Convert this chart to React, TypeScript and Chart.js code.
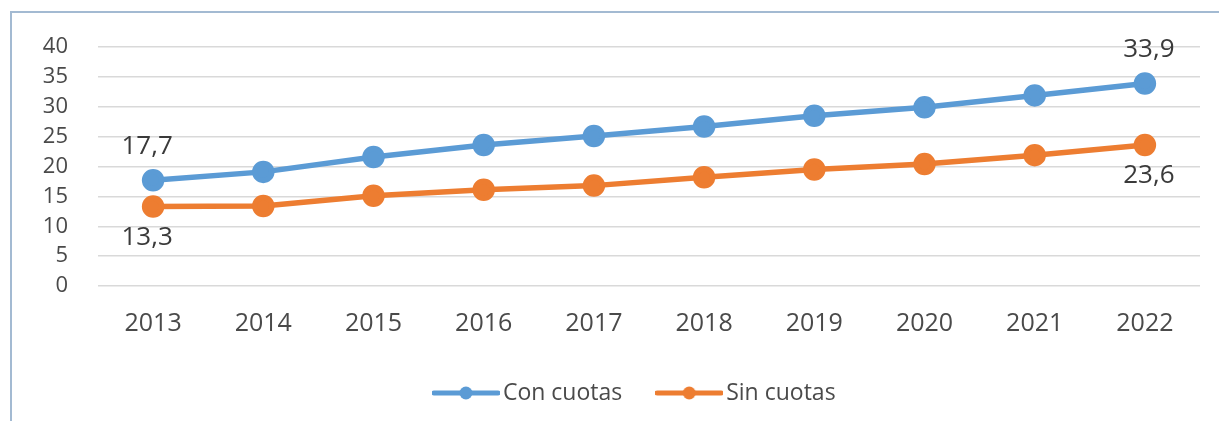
import React, { useEffect, useRef } from "react";
import { Chart, registerables } from "chart.js";

Chart.register(...registerables);

const years = ["2013", "2014", "2015", "2016", "2017", "2018", "2019", "2020", "2021", "2022"];
const conCuotas = [17.7, 19.1, 21.6, 23.6, 25.1, 26.7, 28.5, 29.9, 31.9, 33.9];
const sinCuotas = [13.3, 13.4, 15.1, 16.1, 16.8, 18.2, 19.5, 20.4, 21.9, 23.6];
const seriesNames = ["Con cuotas", "Sin cuotas"];
const seriesColors = ["#5B9BD5", "#ED7D31"];
const labeledIndices = [0, 9];
const yTicks = [0, 5, 10, 15, 20, 25, 30, 35, 40];

const FONT = "'Open Sans', 'DejaVu Sans', sans-serif";
const TEXT = "#4A4A4A";

function legendIcon(color: string): HTMLCanvasElement {
  const c = document.createElement("canvas");
  c.width = 68;
  c.height = 16;
  const ctx = c.getContext("2d")!;
  ctx.strokeStyle = color;
  ctx.lineWidth = 5;
  ctx.lineCap = "round";
  ctx.beginPath();
  ctx.moveTo(2, 8);
  ctx.lineTo(66, 8);
  ctx.stroke();
  ctx.fillStyle = color;
  ctx.beginPath();
  ctx.arc(34, 8, 6.5, 0, Math.PI * 2);
  ctx.fill();
  return c;
}

const dataLabelPlugin = {
  id: "endLabels",
  afterDatasetsDraw(chart: any) {
    const ctx = chart.ctx;
    ctx.save();
    ctx.font = `26px ${FONT}`;
    ctx.fillStyle = "#3A3A3A";
    ctx.textAlign = "center";
    ctx.textBaseline = "middle";
    chart.data.datasets.forEach((ds: any, di: number) => {
      const meta = chart.getDatasetMeta(di);
      labeledIndices.forEach((idx, k) => {
        const pt = meta.data[idx];
        if (!pt) return;
        const v = ds.data[idx] as number;
        const txt = v.toFixed(1).replace(".", ",");
        const dy = di === 0 ? -34 : 31;
        const dx = k === 0 ? -6 : 4;
        ctx.fillText(txt, pt.x + dx, pt.y + dy);
      });
    });
    ctx.restore();
  },
};

const legendShiftPlugin = {
  id: "legendShift",
  afterLayout(chart: any) {
    if (chart.legend) {
      chart.legend.left += 38;
      chart.legend.right += 38;
    }
  },
};

export default function App() {
  const ref = useRef<HTMLCanvasElement>(null);
  useEffect(() => {
    if (!ref.current) return;
    const icons = seriesColors.map(legendIcon);
    const chart = new Chart(ref.current, {
      type: "line",
      data: {
        labels: years,
        datasets: [conCuotas, sinCuotas].map((d, i) => ({
          label: seriesNames[i],
          data: d,
          borderColor: seriesColors[i],
          backgroundColor: seriesColors[i],
          borderWidth: 5.5,
          pointRadius: 8.5,
          pointHoverRadius: 8.5,
          pointBackgroundColor: seriesColors[i],
          pointBorderColor: seriesColors[i],
          pointStyle: "circle",
          tension: 0,
        })),
      },
      options: {
        animation: false,
        responsive: false,
        devicePixelRatio: 1,
        layout: { padding: { left: 0, right: 19, top: 47, bottom: 6.5 } },
        plugins: {
          tooltip: { enabled: false },
          legend: {
            position: "bottom",
            labels: {
              usePointStyle: true,
              pointStyleWidth: 51,
              padding: 41.5,
              color: TEXT,
              font: { family: FONT, size: 23 },
              generateLabels: (ch: any) =>
                ch.data.datasets.map((ds: any, i: number) => ({
                  text: ds.label,
                  fillStyle: seriesColors[i],
                  strokeStyle: seriesColors[i],
                  pointStyle: icons[i],
                  fontColor: TEXT,
                  datasetIndex: i,
                  lineWidth: 0,
                })),
            },
          },
        },
        scales: {
          x: {
            offset: true,
            grid: { display: false, drawTicks: false },
            border: { display: false },
            ticks: { color: TEXT, font: { family: FONT, size: 25 }, padding: 23 },
            afterFit: (s: any) => {
              s.height = 54;
            },
          },
          y: {
            min: 0,
            max: 40,
            afterBuildTicks: (s: any) => {
              s.ticks = yTicks.map((v) => ({ value: v }));
            },
            grid: { color: "#D9D9D9", lineWidth: 1.5, drawTicks: false },
            border: { display: false },
            ticks: { color: TEXT, font: { family: FONT, size: 22 }, padding: 30 },
            afterFit: (s: any) => {
              s.width = 98;
            },
          },
        },
      },
      plugins: [dataLabelPlugin, legendShiftPlugin],
    });
    return () => chart.destroy();
  }, []);

  return (
    <div style={{ position: "fixed", left: 0, top: 0, width: 1219, height: 421, overflow: "hidden", background: "#fff" }}>
      <div
        style={{
          position: "absolute",
          left: 10,
          top: 11,
          width: 1400,
          height: 600,
          borderLeft: "2px solid #A3BAD2",
          borderTop: "2px solid #A3BAD2",
        }}
      />
      <canvas ref={ref} width={1219} height={421} style={{ position: "absolute", left: 0, top: 0 }} />
    </div>
  );
}
